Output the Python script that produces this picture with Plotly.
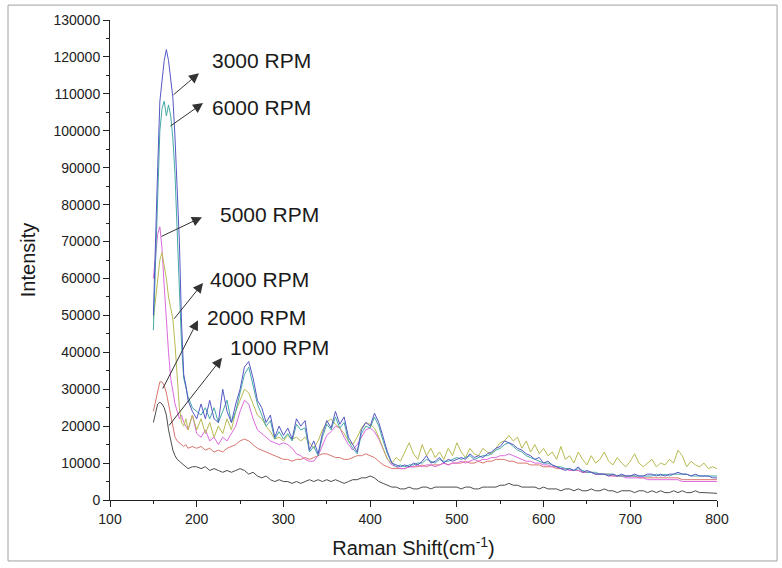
import plotly.graph_objects as go

# Raman shift grid (cm^-1): finer in the peak region
raman_shift = [150, 152.5, 155, 157.5, 160, 162.5, 165, 167.5, 170, 172.5, 175, 177.5, 180, 182.5, 185, 187.5, 190,
               195,
               200, 205, 210, 215, 220, 225, 230, 235, 240, 245,
               250, 255, 260, 265, 270, 275, 280, 285, 290, 295,
               300, 305, 310, 315, 320, 325, 330, 335, 340, 345,
               350, 355, 360, 365, 370, 375, 380, 385, 390, 395,
               400, 405, 410, 415, 420, 425, 430, 435, 440, 445,
               450, 455, 460, 465, 470, 475, 480, 485, 490, 495,
               500, 505, 510, 515, 520, 525, 530, 535, 540, 545,
               550, 555, 560, 565, 570, 575, 580, 585, 590, 595,
               600, 605, 610, 615, 620, 625, 630, 635, 640, 645,
               650, 655, 660, 665, 670, 675, 680, 685, 690, 695,
               700, 705, 710, 715, 720, 725, 730, 735, 740, 745,
               750, 755, 760, 765, 770, 775, 780, 785, 790, 795,
               800]

# Intensities in thousands of counts
rpm_1000 = [21, 24, 26, 26.5, 26, 25, 23, 19, 16, 13.5, 12, 11, 10.5, 10, 9.5, 9, 8.5,
            9,
            9, 8.5, 9, 8, 8.5, 8, 7.5, 8, 7.5, 8,
            8.5, 8, 7, 7.5, 6.5, 6, 6.5, 5.5, 5, 5.5,
            5, 5, 4.5, 5, 4.5, 5, 5.5, 5, 5.5, 5,
            5.5, 5, 5.5, 5, 4.5, 5, 5.5, 5.5, 6, 6,
            6.5, 6, 5, 4.5, 4, 3.5, 3.5, 3, 3, 3.5,
            3, 3, 3.5, 3.5, 3, 3.5, 3.5, 3.5, 3.5, 3.5,
            3.5, 3, 3.5, 3.5, 3, 3, 3.5, 3.5, 3.5, 3.5,
            4, 4, 4.5, 4, 4, 3.5, 3.5, 3.5, 3.5, 3,
            3.5, 3, 3, 3, 2.5, 3, 3, 2.5, 3, 2.5,
            2.5, 3, 2.5, 2.5, 3, 2.5, 2.5, 2, 2.5, 2.5,
            2.5, 2, 2.5, 2.5, 2, 2.5, 2, 2.5, 2, 2,
            2.5, 2, 2.5, 2, 2, 2.5, 2, 2, 2, 2,
            1.8]

rpm_2000 = [24, 27, 30, 32, 32, 31, 29, 26, 22, 19, 17, 16, 15.5, 15, 14.5, 15, 14,
            14.5,
            14, 14.5, 13.5, 14, 13, 13.5, 13, 14, 14.5, 15,
            16, 16.5, 16, 15, 14, 13.5, 13, 12.5, 12, 11.5,
            11, 11, 10.5, 11, 11, 11.5, 11, 11.5, 12, 12.5,
            12.5, 12, 11.5, 11.5, 11, 11, 11.5, 12, 12, 12.5,
            12, 11.5, 10.5, 9.5, 9, 8.5, 8.5, 8.5, 8.5, 9,
            9, 9, 9.5, 9, 9.5, 9.5, 9.5, 10, 9.5, 10,
            10, 10, 10.5, 10, 10, 10.5, 10, 10.5, 10.5, 11,
            11, 11, 10.5, 10.5, 10, 10, 10, 9.5, 9.5, 9.5,
            9, 9, 9, 8.5, 8.5, 8.5, 8, 8, 8, 7.5,
            7.5, 7.5, 7, 7, 7, 7, 6.5, 6.5, 6.5, 6.5,
            6.5, 6.5, 6, 6, 6, 6, 6, 6, 6, 6,
            6, 6, 5.5, 5.5, 5.5, 5.5, 5.5, 5.5, 5.5, 5.5,
            5.5]

rpm_3000 = [50, 72, 90, 108, 114, 119, 122, 119, 114, 109, 98, 85, 70, 48, 34, 31, 27,
            24,
            22, 26, 22, 27, 22, 21, 30, 24, 21, 26,
            30, 36, 37.5, 33, 27, 25, 21, 23, 17, 20,
            17.5, 19.5, 16.5, 22, 20, 21.5, 13.5, 16, 12.5, 18,
            21.5, 19.5, 24, 20.5, 22.5, 17, 15, 13, 19, 21,
            20, 23.5, 21, 17, 13, 10, 9.5, 9, 9.5, 9,
            10, 9.5, 10.5, 12, 10, 10.5, 11.5, 10, 11, 10.5,
            11, 11.5, 11, 12.5, 11.5, 12, 11.5, 12.5, 13, 14,
            14.5, 16, 15.5, 15, 14, 13.5, 12.5, 12, 11, 11.5,
            10, 10.5, 9.5, 9, 8.5, 8, 8.5, 8, 9, 7.5,
            8, 7.5, 7, 7, 7, 6.5, 7, 6.5, 7, 6.5,
            6.5, 7, 6.5, 6.5, 7, 7, 6.5, 7, 6.5, 7,
            7, 7.5, 7, 7, 6.5, 7, 6.5, 6.5, 6.5, 6,
            6]

rpm_4000 = [49, 55, 60, 65, 67, 64, 60, 55, 52, 49, 42, 33, 25, 21, 20, 22, 19,
            23,
            19, 22, 18, 21, 17, 20, 18, 22, 19, 24,
            27, 30, 29, 26, 23, 22, 20, 18.5, 16.5, 17,
            16, 17.5, 16.5, 17, 16, 17, 15.5, 14, 16, 19,
            21, 22, 20.5, 19.5, 18, 16, 15, 17, 19.5, 21,
            20.5, 19.5, 17, 14, 11, 10, 11.5, 10.5, 13, 15.5,
            12.5, 11, 15, 12, 14, 11.5, 13, 11, 14, 12,
            15.5, 13, 11.5, 14, 12.5, 12, 14, 13, 12.5, 14,
            15.5, 16, 17.5, 16, 17, 14, 16, 13, 15, 12.5,
            14, 12, 13, 11, 14.5, 11, 12, 10, 13, 11,
            9.5, 12, 10, 11, 13, 10.5, 9.5, 11.5, 10, 9,
            10.5, 12.5, 10, 9, 10, 11, 9, 10, 9.5, 11,
            10, 13.5, 12, 9, 10.5, 9.5, 9, 10, 8.5, 9,
            8.5]

rpm_5000 = [60, 66, 72, 74, 68, 58, 48, 40, 33, 29, 26, 24, 22, 23, 21, 20, 19,
            23,
            18, 17, 19, 16, 17, 15, 17, 16, 18, 20,
            24, 27, 26, 22, 19, 18, 17, 16, 15.5, 15,
            15.5, 15, 14, 12.5, 12, 11, 10.5, 10.5, 12, 15,
            17.5, 18.5, 20, 19.5, 17, 15, 13.5, 15, 17, 19,
            19.5, 18.5, 16.5, 13.5, 11, 9.5, 9, 8.5, 8.5, 9,
            9, 9.5, 9, 9.5, 9.5, 9, 9.5, 10, 9.5, 10,
            10, 10.5, 10, 10.5, 11, 10.5, 11, 11, 11.5, 11.5,
            12, 12, 12.5, 12, 11.5, 11, 10.5, 10.5, 10, 10,
            9.5, 9.5, 9, 9, 8.5, 8.5, 8, 8, 8, 7.5,
            7.5, 7.5, 7, 7, 7, 6.5, 6.5, 6.5, 6.5, 6,
            6, 6, 6, 6, 5.5, 5.5, 5.5, 5.5, 5.5, 5.5,
            5.5, 5.5, 5, 5, 5, 5, 5, 5, 5, 5,
            5]

rpm_6000 = [46, 65, 85, 100, 106, 108, 104, 107, 104, 98, 88, 74, 58, 42, 33, 30, 28,
            25,
            24, 23, 25, 22, 25, 21, 24, 27, 21, 24,
            29, 34, 36, 31, 26, 23, 20, 21.5, 16.5, 18.5,
            16.5, 18, 16, 20.5, 19, 19.5, 13, 14.5, 12, 17,
            20.5, 19, 22.5, 19.5, 21, 16, 14, 12.5, 18, 20,
            19.5, 22.5, 20, 16, 12.5, 10, 9, 9.5, 9, 9.5,
            9.5, 10, 10, 11, 10.5, 10, 11, 10.5, 10.5, 11,
            11.5, 11, 11.5, 12, 11, 11.5, 12, 12, 12.5, 13.5,
            14, 15, 15.5, 14.5, 13.5, 13, 12, 11.5, 11, 10.5,
            10, 10, 9.5, 9, 9, 8.5, 8.5, 8, 8.5, 8,
            7.5, 7.5, 7.5, 7, 7, 7, 7, 6.5, 6.5, 6.5,
            6.5, 6.5, 6.5, 6.5, 6.5, 6.5, 7, 6.5, 7, 6.5,
            7, 7, 7, 7, 6.5, 6.5, 6.5, 6.5, 6.5, 6.5,
            6.5]

series_names = ["1000 RPM", "2000 RPM", "5000 RPM", "4000 RPM", "6000 RPM", "3000 RPM"]
series_values = [rpm_1000, rpm_2000, rpm_5000, rpm_4000, rpm_6000, rpm_3000]
series_colors = ["#4d4d4d", "#d8766e", "#de6ade", "#b8ba52", "#45a9a6", "#5558c4"]

# Label annotations: (text, text left x, text y, arrow head x, head y, arrow tail x, tail y)
labels = [
    ("3000 RPM", 215, 119000, 202.6, 115600, 171.5, 109400),
    ("6000 RPM", 215, 106200, 207.3, 107500, 168.0, 101000),
    ("5000 RPM", 224.5, 77200, 206.0, 76600, 157.7, 71200),
    ("4000 RPM", 213, 59600, 207.3, 58800, 172.7, 48700),
    ("2000 RPM", 209.5, 49300, 201.5, 48700, 160.0, 29800),
    ("1000 RPM", 236, 41200, 229.2, 38500, 166.9, 19800),
]

fig = go.Figure()
for name, vals, col in zip(series_names, series_values, series_colors):
    fig.add_trace(go.Scatter(
        x=raman_shift, y=[v * 1000 for v in vals], mode="lines", name=name,
        line=dict(color=col, width=1), showlegend=False))

FONT = "Liberation Sans, Arial, sans-serif"
for text, tx, ty, hx, hy, ax, ay in labels:
    fig.add_annotation(x=hx, y=hy, ax=ax, ay=ay, xref="x", yref="y", axref="x", ayref="y",
                       text="", showarrow=True, arrowhead=2, arrowsize=2.0, arrowwidth=1,
                       arrowcolor="#333333")
    fig.add_annotation(x=tx, y=ty, xref="x", yref="y", text=text, showarrow=False,
                       xanchor="left", yanchor="middle",
                       font=dict(family=FONT, size=21, color="#1a1a1a"))

# outer frame around the whole figure
fig.add_shape(type="rect", xref="paper", yref="paper", x0=-0.168, x1=1.099, y0=-0.127, y1=1.031,
              line=dict(color="#a0a0a0", width=1), fillcolor="rgba(0,0,0,0)", layer="below")

axis_common = dict(
    showgrid=False, zeroline=False, showline=True, linecolor="#222222", linewidth=1,
    ticks="outside", ticklen=6, tickcolor="#222222", tickwidth=1,
    tickfont=dict(family=FONT, size=14, color="#222222"),
    title_font=dict(family=FONT, size=20, color="#1a1a1a"),
    mirror=False,
)

fig.update_xaxes(range=[100, 800], dtick=100, tick0=100,
                 minor=dict(dtick=50, tick0=100, ticks="outside", ticklen=3, tickcolor="#222222"),
                 title_text="Raman Shift(cm<sup>-1</sup>)", title_standoff=15, **axis_common)
fig.update_yaxes(range=[0, 130000], dtick=10000, tick0=0, tickformat="d",
                 minor=dict(dtick=5000, tick0=0, ticks="outside", ticklen=3, tickcolor="#222222"),
                 title_text="Intensity", title_standoff=12, **axis_common)

fig.update_layout(
    width=782, height=568,
    margin=dict(l=110, r=65, t=20, b=68),
    paper_bgcolor="white", plot_bgcolor="white",
    font=dict(family=FONT),
)

fig.write_html("out.html")
